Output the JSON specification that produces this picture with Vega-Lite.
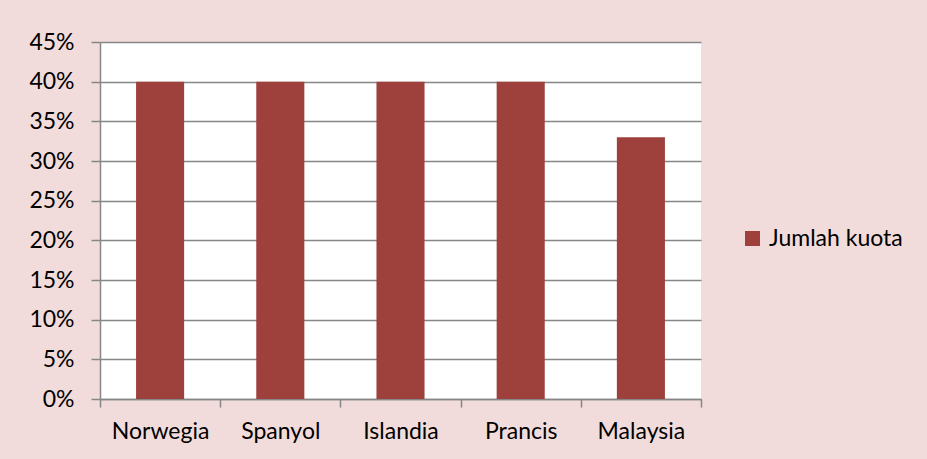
{
  "$schema": "https://vega.github.io/schema/vega-lite/v6.json",
  "autosize": "none",
  "width": 601,
  "height": 357,
  "padding": {"left": 100, "top": 42, "right": 226, "bottom": 60},
  "background": "#F2DCDB",
  "config": {
    "view": {"fill": "#FFFFFF", "stroke": null},
    "font": "Lato"
  },
  "data": {
    "values": [
      {"negara": "Norwegia", "nilai": 0.40, "seri": "Jumlah kuota"},
      {"negara": "Spanyol", "nilai": 0.40, "seri": "Jumlah kuota"},
      {"negara": "Islandia", "nilai": 0.40, "seri": "Jumlah kuota"},
      {"negara": "Prancis", "nilai": 0.40, "seri": "Jumlah kuota"},
      {"negara": "Malaysia", "nilai": 0.33, "seri": "Jumlah kuota"}
    ]
  },
  "mark": {"type": "bar", "width": {"band": 0.4}},
  "encoding": {
    "x": {
      "field": "negara",
      "type": "nominal",
      "sort": null,
      "scale": {"paddingInner": 0, "paddingOuter": 0},
      "axis": {
        "title": null,
        "labelAngle": 0,
        "labelFontSize": 23,
        "labelColor": "#000000",
        "labelPadding": 13,
        "tickBand": "extent",
        "tickSize": 8,
        "tickColor": "#868686",
        "tickWidth": 1.5,
        "domainColor": "#868686",
        "domainWidth": 1.5,
        "grid": false
      }
    },
    "y": {
      "field": "nilai",
      "type": "quantitative",
      "scale": {"domain": [0, 0.45], "nice": false},
      "axis": {
        "title": null,
        "format": ".0%",
        "values": [0, 0.05, 0.1, 0.15, 0.2, 0.25, 0.3, 0.35, 0.4, 0.45],
        "labelFontSize": 23,
        "labelColor": "#000000",
        "labelPadding": 17,
        "tickSize": 9,
        "tickColor": "#868686",
        "tickWidth": 1.5,
        "domainColor": "#868686",
        "domainWidth": 1.5,
        "grid": true,
        "gridColor": "#868686",
        "gridWidth": 1.5
      }
    },
    "color": {
      "field": "seri",
      "type": "nominal",
      "scale": {"range": ["#9E413D"]},
      "legend": {
        "title": null,
        "orient": "none",
        "legendX": 641,
        "legendY": 185,
        "symbolType": "square",
        "symbolSize": 225,
        "symbolOpacity": 1,
        "symbolStrokeWidth": 0,
        "labelFontSize": 23,
        "labelColor": "#000000",
        "labelOffset": 5
      }
    }
  }
}
